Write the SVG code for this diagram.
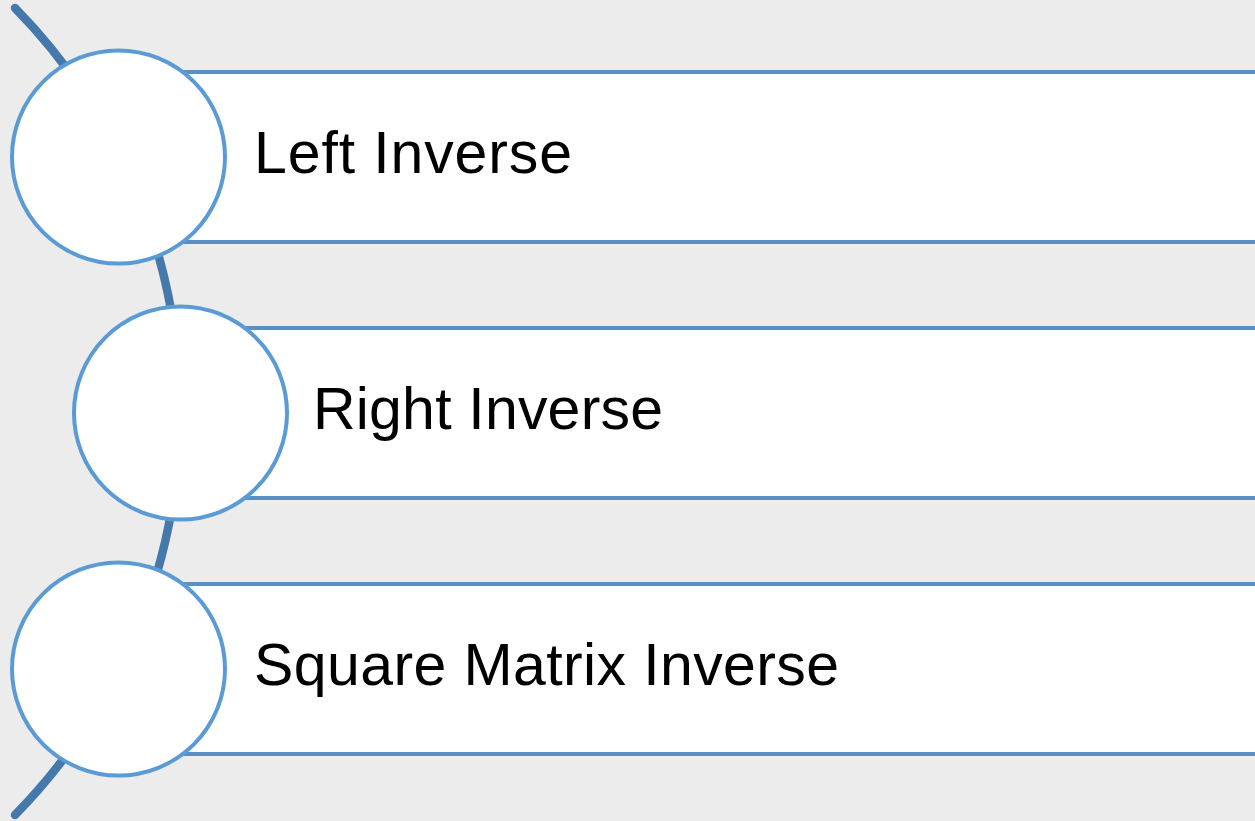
<svg xmlns="http://www.w3.org/2000/svg" width="1255" height="821" viewBox="0 0 1255 821">
  <style>
    .bar { fill: #ffffff; stroke: #5590c6; stroke-width: 4; }
    .dot { fill: #ffffff; stroke: #5b9bd5; stroke-width: 4; }
    .lbl { font-family: "Liberation Sans", Arial, sans-serif; font-size: 59px; fill: #000000; }
    .arc { fill: none; stroke: #4679ab; stroke-width: 8.5; stroke-linecap: round; }
  </style>
  <rect x="0" y="0" width="1255" height="821" fill="#ececec"/>
  <g id="connectors">
    <path class="arc" d="M 15 8 A 576 576 0 0 1 15 815"/>
  </g>
  <g id="node-left-inverse">
    <rect class="bar" x="118" y="72" width="1150" height="170"/>
    <circle class="dot" cx="118.5" cy="157" r="106.5"/>
    <text class="lbl" x="254" y="173" textLength="318" lengthAdjust="spacing">Left Inverse</text>
  </g>
  <g id="node-right-inverse">
    <rect class="bar" x="180" y="328" width="1090" height="170"/>
    <circle class="dot" cx="180.5" cy="413" r="106.5"/>
    <text class="lbl" x="313" y="429" textLength="350" lengthAdjust="spacing">Right Inverse</text>
  </g>
  <g id="node-square-inverse">
    <rect class="bar" x="118" y="584" width="1150" height="170"/>
    <circle class="dot" cx="118.5" cy="669" r="106.5"/>
    <text class="lbl" x="254" y="685" textLength="585" lengthAdjust="spacing">Square Matrix Inverse</text>
  </g>
</svg>
